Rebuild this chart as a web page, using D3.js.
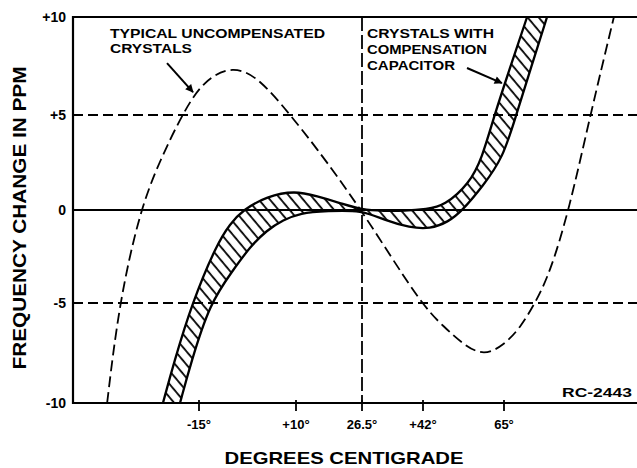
<!DOCTYPE html>
<html>
<head>
<meta charset="utf-8">
<script src="https://cdn.jsdelivr.net/npm/d3@7"></script>
<style>
  html, body { margin: 0; padding: 0; background: #fff; }
  svg { display: block; }
  text { font-family: "Liberation Sans", Arial, sans-serif; font-weight: bold; fill: #000; }
</style>
</head>
<body>
<script>
// ---------- data ----------
const yTicks = [-10, -5, 0, 5, 10];
const yTickLabels = ["-10", "-5", "0", "+5", "+10"];
const xTicks = [-15, 10, 26.5, 42, 65];
const xTickLabels = ["-15°", "+10°", "26.5°", "+42°", "65°"];
const refTemp = 26.5;

// typical uncompensated crystals (temperature °C, ppm)
const uncompT   = [-38.7, -35.6, -30.2, -25.1, -19.4, -14.0, -6.2, 0.7, 8.5, 14.3, 26.5, 41.2, 48.0, 53.6, 59.3, 65.0, 69.6, 73.9, 78.1, 83.6, 89.6, 96.4];
const uncompPPM = [-10, -5, 0, 2.6, 5, 6.75, 7.55, 6.85, 5, 3.5, 0, -5, -6.2, -7.1, -7.65, -7.1, -6.25, -5, -3.4, 0, 4.95, 10];

// crystals with compensation capacitor: upper and lower edges of the band
const upperT   = [-24.3, -21.5, -16.8, -10.4, -7.0, -3.7, 2.5, 9.7, 15.3, 21.0, 26.5, 32.1, 37.2, 43.1, 48.0, 55.1, 58.8, 62.2, 66.7, 71.6];
const upperPPM = [-10, -8.0, -5, -1.83, -0.75, 0, 0.72, 1.02, 0.72, 0.37, 0, -0.05, -0.05, 0.05, 0.21, 1.37, 2.74, 4.95, 7.4, 10];
const lowerT   = [-19.9, -17.1, -12.2, -6.2, -1.9, 2.5, 6.7, 11.0, 17.8, 26.5, 32.1, 38.7, 44.0, 49.1, 53.1, 59.0, 64.7, 68.4, 72.7, 77.3];
const lowerPPM = [-10, -8.0, -5, -3.23, -1.99, -1.08, -0.54, -0.16, -0.05, 0, -0.54, -0.95, -1.02, -0.65, -0.05, 1.26, 2.74, 4.95, 7.4, 10];

// ---------- setup ----------
const W = 637, H = 468;
const svg = d3.select("body").append("svg").attr("width", W).attr("height", H);
svg.append("rect").attr("width", W).attr("height", H).attr("fill", "#fff");

// hand-drawn (slightly non-uniform) axis, piecewise linear
const x = d3.scaleLinear()
  .domain([-47.5, -15, 10, 26.5, 42, 65, 103])
  .range([73, 199, 296, 362, 423, 504, 637]);
const y = d3.scaleLinear()
  .domain([-10, -5, 0, 5, 10])
  .range([403, 303, 210, 115, 17]);

const [x0, x1] = [x(-47.5), x(103)];
const [yb, yt] = [y(-10), y(10)];

const defs = svg.append("defs");
defs.append("clipPath").attr("id", "plotclip")
  .append("rect").attr("x", x0).attr("y", yt).attr("width", x1 - x0).attr("height", yb - yt);

const hatch = defs.append("pattern").attr("id", "hatch")
  .attr("patternUnits", "userSpaceOnUse").attr("width", 8.5).attr("height", 8.5)
  .attr("patternTransform", "rotate(-40)");
hatch.append("line").attr("x1", 2).attr("y1", 0).attr("x2", 2).attr("y2", 8.5)
  .attr("stroke", "#000").attr("stroke-width", 1.8);

defs.append("marker").attr("id", "arrow").attr("viewBox", "0 0 10 10")
  .attr("refX", 9).attr("refY", 5).attr("markerWidth", 12).attr("markerHeight", 8)
  .attr("markerUnits", "userSpaceOnUse").attr("orient", "auto")
  .append("path").attr("d", "M0,0 L10,5 L0,10 Z").attr("fill", "#000");

const plot = svg.append("g").attr("clip-path", "url(#plotclip)");

// ---------- grid ----------
plot.selectAll(".hgrid").data(yTicks.filter(v => v === 5 || v === -5)).join("line")
  .attr("x1", x0).attr("x2", x1).attr("y1", d => y(d)).attr("y2", d => y(d))
  .attr("stroke", "#000").attr("stroke-width", 1.8).attr("stroke-dasharray", "10,5");
plot.append("line")
  .attr("x1", x0).attr("x2", x1).attr("y1", y(0)).attr("y2", y(0))
  .attr("stroke", "#000").attr("stroke-width", 2);
plot.append("line")
  .attr("x1", x(refTemp)).attr("x2", x(refTemp)).attr("y1", yt).attr("y2", yb)
  .attr("stroke", "#000").attr("stroke-width", 1.8).attr("stroke-dasharray", "14,4");

// ---------- curves ----------
const line = d3.line().x(d => x(d[0])).y(d => y(d[1])).curve(d3.curveBasis);
const uncomp = uncompT.map((t, i) => [t, uncompPPM[i]]);
const upper = upperT.map((t, i) => [t, upperPPM[i]]);
const lower = lowerT.map((t, i) => [t, lowerPPM[i]]);

plot.append("path").attr("d", line(uncomp))
  .attr("fill", "none").attr("stroke", "#000").attr("stroke-width", 1.8)
  .attr("stroke-dasharray", "11,5");

const upD = line(upper);
const loD = line(lower.slice().reverse());
plot.append("path").attr("d", upD + "L" + loD.slice(1) + "Z")
  .attr("fill", "url(#hatch)").attr("stroke", "none");
plot.append("path").attr("d", upD).attr("fill", "none").attr("stroke", "#000").attr("stroke-width", 2.3);
plot.append("path").attr("d", line(lower)).attr("fill", "none").attr("stroke", "#000").attr("stroke-width", 2.3);

// ---------- frame / axes ----------
svg.append("line").attr("x1", x0).attr("x2", x0).attr("y1", yt - 1).attr("y2", yb + 1)
  .attr("stroke", "#000").attr("stroke-width", 2.2);
svg.append("line").attr("x1", x0).attr("x2", x1).attr("y1", yb).attr("y2", yb)
  .attr("stroke", "#000").attr("stroke-width", 2.2);
svg.append("line").attr("x1", x0).attr("x2", x1).attr("y1", yt).attr("y2", yt)
  .attr("stroke", "#000").attr("stroke-width", 2.2);

// x ticks
svg.selectAll(".xtick").data(xTicks).join("line")
  .attr("x1", d => x(d)).attr("x2", d => x(d)).attr("y1", yb - 3).attr("y2", yb + 8)
  .attr("stroke", "#000").attr("stroke-width", 1.8);
svg.selectAll(".xlab").data(xTicks).join("text")
  .attr("x", d => x(d)).attr("y", 429).attr("text-anchor", "middle")
  .attr("font-size", 13).text((d, i) => xTickLabels[i]);

// y tick labels
svg.selectAll(".ylab").data(yTicks).join("text")
  .attr("x", 66).attr("y", d => y(d) + 5).attr("text-anchor", "end")
  .attr("font-size", 14).text((d, i) => yTickLabels[i]);

// axis titles
svg.append("text").attr("x", 344).attr("y", 464).attr("text-anchor", "middle")
  .attr("font-size", 17).attr("textLength", 239).attr("lengthAdjust", "spacingAndGlyphs")
  .text("DEGREES CENTIGRADE");
svg.append("text").attr("transform", "translate(26,218) rotate(-90)").attr("text-anchor", "middle")
  .attr("font-size", 18).attr("textLength", 303).attr("lengthAdjust", "spacingAndGlyphs")
  .text("FREQUENCY CHANGE IN PPM");

// ---------- annotations ----------
const ann = svg.append("g").attr("font-size", 13.5);
ann.append("text").attr("x", 110).attr("y", 38).attr("textLength", 215).attr("lengthAdjust", "spacingAndGlyphs").text("TYPICAL UNCOMPENSATED");
ann.append("text").attr("x", 110).attr("y", 53).attr("textLength", 82).attr("lengthAdjust", "spacingAndGlyphs").text("CRYSTALS");
ann.append("text").attr("x", 367).attr("y", 38).attr("textLength", 127).attr("lengthAdjust", "spacingAndGlyphs").text("CRYSTALS WITH");
ann.append("text").attr("x", 367).attr("y", 54).attr("textLength", 120).attr("lengthAdjust", "spacingAndGlyphs").text("COMPENSATION");
ann.append("text").attr("x", 367).attr("y", 70).attr("textLength", 88).attr("lengthAdjust", "spacingAndGlyphs").text("CAPACITOR");

const arrows = [
  { from: [-23.25, 7.65], to: [-16.55, 6.17] },
  { from: [54.5, 7.4], to: [64.4, 6.63] }
];
svg.selectAll(".arrow").data(arrows).join("line")
  .attr("x1", d => x(d.from[0])).attr("y1", d => y(d.from[1]))
  .attr("x2", d => x(d.to[0])).attr("y2", d => y(d.to[1]))
  .attr("stroke", "#000").attr("stroke-width", 2).attr("marker-end", "url(#arrow)");

svg.append("text").attr("x", 632).attr("y", 397).attr("text-anchor", "end")
  .attr("font-size", 12).attr("textLength", 70).attr("lengthAdjust", "spacingAndGlyphs").text("RC-2443");
</script>
</body>
</html>
